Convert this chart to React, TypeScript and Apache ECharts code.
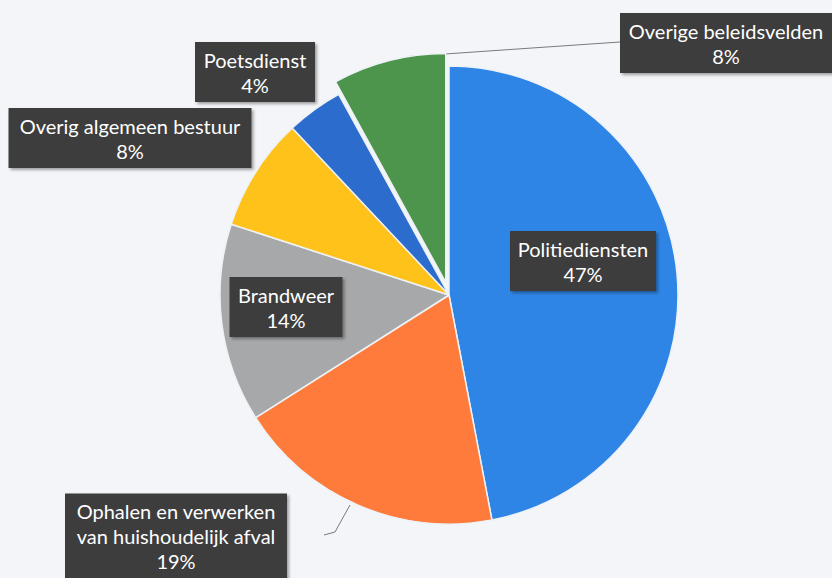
import React, { useEffect, useRef } from "react";
import * as echarts from "echarts";

const categories = [
  "Politiediensten",
  "Ophalen en verwerken\nvan huishoudelijk afval",
  "Brandweer",
  "Overig algemeen bestuur",
  "Poetsdienst",
  "Overige beleidsvelden",
];
const values = [47, 19, 14, 8, 4, 8];
const colors = ["#2f85e5", "#ff7b3c", "#a7a8aa", "#ffc21a", "#2b6ccc", "#4d944d"];
const explodedIndex = 5;

// label layout (box centre, content width, inside/outside)
const labelBoxes = [
  { cx: 583, cy: 261, w: 128, inside: true },
  { cx: 176, cy: 536, w: 204, inside: false },
  { cx: 286, cy: 307, w: 95, inside: true },
  { cx: 130, cy: 138, w: 225, inside: false },
  { cx: 255, cy: 72, w: 102, inside: false },
  { cx: 726, cy: 43, w: 194, inside: false },
];
const leaderLines: Record<number, number[][]> = {
  1: [[350, 505], [335, 532], [324, 535]],
  5: [[445, 54], [532, 48], [620, 42]],
};

const CENTER = [449, 295];
const RADIUS = 229;
const EXPLODE = 13;

export default function App() {
  const ref = useRef<HTMLDivElement>(null);
  useEffect(() => {
    if (!ref.current) return;
    const chart = echarts.init(ref.current, undefined, { renderer: "svg" });
    const total = values.reduce((a, b) => a + b, 0);

    // direction of the exploded slice's bisector
    const before = values.slice(0, explodedIndex).reduce((a, b) => a + b, 0);
    const midFrac = (before + values[explodedIndex] / 2) / total;
    const ang = midFrac * Math.PI * 2; // clockwise from top
    const offCenter = [
      CENTER[0] + EXPLODE * Math.sin(ang),
      CENTER[1] - EXPLODE * Math.cos(ang),
    ];

    const baseLabel = {
      show: true,
      formatter: (p: any) => `${p.name}\n${Math.round((p.value / total) * 100)}%`,
      color: "#ffffff",
      fontFamily: "Lato",
      fontSize: 20,
      lineHeight: 25,
      align: "center",
      backgroundColor: "#3e3e3e",
      padding: [5, 9],
      overflow: "none",
      shadowColor: "rgba(0,0,0,0.35)",
      shadowBlur: 3,
      shadowOffsetX: 2,
      shadowOffsetY: 2,
    };

    const makeData = (visible: (i: number) => boolean) =>
      categories.map((name, i) => ({
        name,
        value: values[i],
        itemStyle: visible(i)
          ? { color: colors[i] }
          : { color: "rgba(0,0,0,0)", borderWidth: 0 },
        label: {
          show: visible(i),
          position: labelBoxes[i].inside ? "inside" : "outside",
          width: labelBoxes[i].w,
        },
        labelLine: { show: visible(i) && leaderLines[i] != null },
      }));

    const layoutFn = (params: any) => {
      const b = labelBoxes[params.dataIndex];
      const out: any = {
        x: b.cx,
        y: b.cy,
        align: "center",
        verticalAlign: "middle",
      };
      if (leaderLines[params.dataIndex]) out.labelLinePoints = leaderLines[params.dataIndex];
      return out;
    };

    const common = {
      type: "pie",
      radius: RADIUS,
      startAngle: 90,
      clockwise: true,
      avoidLabelOverlap: false,
      silent: true,
      itemStyle: { borderColor: "#eef2f6", borderWidth: 1.5 },
      label: baseLabel,
      labelLine: { show: false, lineStyle: { color: "#7a7a7a", width: 1 } },
      labelLayout: layoutFn,
      emphasis: { disabled: true },
    };

    chart.setOption({
      animation: false,
      backgroundColor: "#f3f5f8",
      series: [
        { ...common, center: CENTER, data: makeData((i) => i !== explodedIndex) },
        { ...common, center: offCenter, data: makeData((i) => i === explodedIndex) },
      ],
    });
    return () => chart.dispose();
  }, []);
  return (
    <div
      ref={ref}
      style={{ position: "fixed", left: 0, top: 0, width: 832, height: 578 }}
    />
  );
}
